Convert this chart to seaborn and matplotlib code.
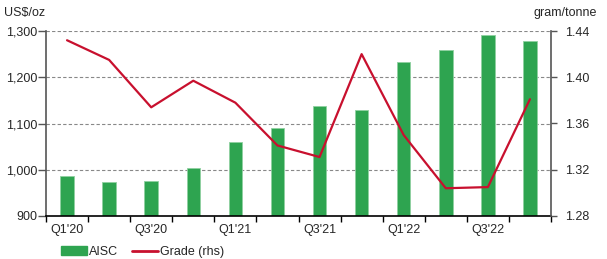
import numpy as np
import pandas as pd
import matplotlib
matplotlib.use("Agg")
import matplotlib.pyplot as plt
import seaborn as sns
from matplotlib.patches import Patch
from matplotlib.lines import Line2D

quarters = ["Q1'20", "Q2'20", "Q3'20", "Q4'20", "Q1'21", "Q2'21", "Q3'21", "Q4'21",
            "Q1'22", "Q2'22", "Q3'22", "Q4'22"]
aisc = [987, 973, 976, 1004, 1060, 1090, 1138, 1129, 1233, 1260, 1291, 1279]
grade = [1.432, 1.415, 1.374, 1.397, 1.378, 1.341, 1.331, 1.420, 1.350, 1.304, 1.305, 1.381]
left_ticks = [900, 1000, 1100, 1200, 1300]
left_labels = ["900", "1,000", "1,100", "1,200", "1,300"]
right_ticks = [1.28, 1.32, 1.36, 1.40, 1.44]
right_labels = ["1.28", "1.32", "1.36", "1.40", "1.44"]

sns.set_theme(style="white")
plt.rcParams['font.family'] = ['Liberation Sans', 'DejaVu Sans']
plt.rcParams['font.size'] = 9

green = "#2ea450"
red = "#c8102e"

fig = plt.figure(figsize=(6.07, 2.59), dpi=100)
ax = fig.add_axes([46/607, 1-216/259, (551-46)/607, (216-31)/259])

df = pd.DataFrame({"q": quarters, "aisc": aisc, "grade": grade, "pos": np.arange(len(quarters))})
sns.barplot(data=df, x="q", y="aisc", color=green, width=0.32, ax=ax, saturation=1,
            edgecolor="#8fd0a0", linewidth=0.6, zorder=2)
ax.set_ylim(900, 1300)
ax.set_xlim(-0.5, len(quarters) - 0.5)
ax.set_yticks(left_ticks)
ax.set_yticklabels(left_labels, fontsize=9)
ax.set_xlabel("")
ax.set_ylabel("")
for y in left_ticks[1:]:
    ax.axhline(y, color="#888888", linestyle=(0, (3, 2)), linewidth=0.8, zorder=1)

# x ticks: labels at every other category, tick marks at boundaries
ax.set_xticks(np.arange(0, len(quarters), 2))
ax.set_xticklabels([quarters[i] for i in range(0, len(quarters), 2)], fontsize=9)
ax.tick_params(axis="x", which="major", length=0, pad=6)
ax.set_xticks(np.arange(-0.5, len(quarters), 1), minor=True)
ax.tick_params(axis="x", which="minor", length=4, width=1, color="black", direction="out", bottom=True)
ax.tick_params(axis="y", length=5.5, width=1, color="#555555", direction="out", left=True, pad=1)

ax.spines["top"].set_visible(False)
ax.spines["bottom"].set_color("black")
ax.spines["bottom"].set_linewidth(1.2)
ax.spines["left"].set_color("#555555")
ax.spines["left"].set_linewidth(1.2)
ax.spines["right"].set_visible(False)

ax2 = ax.twinx()
sns.lineplot(data=df, x="pos", y="grade", color=red, linewidth=1.6, ax=ax2, zorder=3)
ax2.set_ylim(1.28, 1.44)
ax2.set_yticks(right_ticks)
ax2.set_yticklabels(right_labels, fontsize=9)
ax2.set_ylabel("")
ax2.set_xlabel("")
ax2.tick_params(axis="y", length=4, width=1, color="#555555", direction="out", right=True, pad=6)
for s in ["top", "left", "bottom"]:
    ax2.spines[s].set_visible(False)
ax2.spines["right"].set_color("#555555")
ax2.spines["right"].set_linewidth(1.2)
ax2.set_xlim(-0.5, len(quarters) - 0.5)

fig.text(4/607, 1-13/259, "US$/oz", fontsize=9, va="center", ha="left")
fig.text(597/607, 1-13/259, "gram/tonne", fontsize=9, va="center", ha="right")

handles = [Patch(facecolor=green, edgecolor=green), Line2D([0], [0], color=red, linewidth=2)]
fig.legend(handles, ["AISC", "Grade (rhs)"], loc="center left", bbox_to_anchor=(61/607, 1-252/259),
           ncol=2, frameon=False, fontsize=9, handlelength=2.08, handleheight=0.64,
           handletextpad=0.16, columnspacing=1.1, borderaxespad=0, borderpad=0)

fig.savefig("out.png", dpi=100)
